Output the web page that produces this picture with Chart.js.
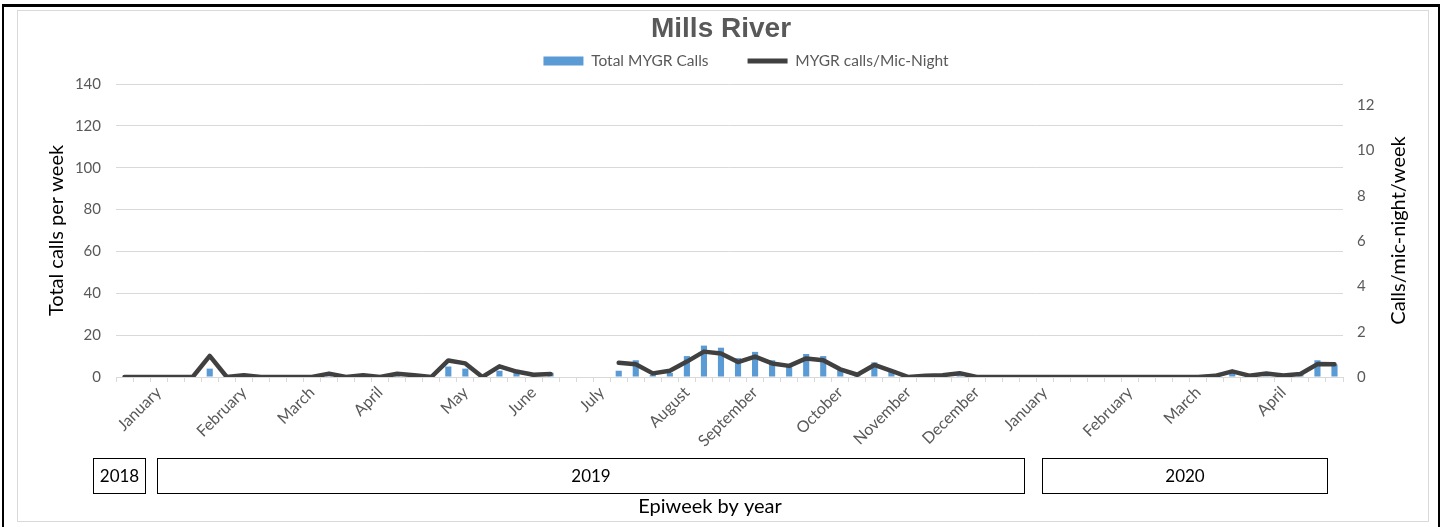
<!DOCTYPE html>
<html>
<head>
<meta charset="utf-8">
<title>Mills River</title>
<script src="https://cdn.jsdelivr.net/npm/chart.js@4.4.0/dist/chart.umd.min.js"></script>
<style>
  html, body { margin: 0; padding: 0; background: #fff; }
  body { width: 1442px; height: 527px; position: relative; overflow: hidden; }
  #chart { position: absolute; left: 0; top: 0; }
  .frame-outer { position: absolute; left: 2px; top: 4px; width: 1438px; height: 540px; box-sizing: border-box;
                 border-top: 3px solid #000; border-left: 2px solid #000; border-right: 2px solid #000; pointer-events: none; }
  .frame-inner { position: absolute; left: 17px; top: 10px; width: 1412px; height: 512px; box-sizing: border-box;
                 border: 1px solid #d9d9d9; pointer-events: none; }
  .year { position: absolute; top: 458px; height: 36px; box-sizing: border-box; border: 1px solid #000;
          font: 17px Lato, sans-serif; line-height: 34px; text-align: center; color: #000; background: #fff; }
</style>
</head>
<body>
<canvas id="chart" width="1442" height="527"></canvas>
<div class="frame-outer"></div>
<div class="frame-inner"></div>
<div id="years"></div>
<script>
// month names shown on the epiweek axis and the week index where each sits
const monthLabels = ['January', 'February', 'March', 'April', 'May', 'June', 'July', 'August',
  'September', 'October', 'November', 'December', 'January', 'February', 'March', 'April'];
const monthWeekIndex = [2, 7, 11, 15, 20, 24, 28, 33, 37, 42, 46, 50, 54, 59, 63, 68];

// year boxes under the axis
const yearLabels = ['2018', '2019', '2020'];

// weekly totals (left axis)
const totalCalls = [
  0, 0, 0, 0, 0, 4, 0, 1, 0, 0,
  0, 0, 1, 0, 1, 0, 1, 1, 0, 5,
  4, 0, 3, 3, 1, 2, null, null, null, 3,
  8, 1, 2, 10, 15, 14, 9, 12, 8, 6,
  11, 10, 4, 1, 7, 3, 0, 1, 1, 1,
  0, 0, 0, 0, 0, 0, 0, 0, 0, 0,
  0, 0, 0, 0, 1, 2, 1, 1, 1, 1,
  8, 6
];

// calls per mic-night (right axis)
const callsPerMicNight = [
  0, 0, 0, 0, 0, 0.93, 0, 0.08, 0, 0,
  0, 0, 0.15, 0, 0.08, 0, 0.14, 0.08, 0, 0.73,
  0.6, 0, 0.47, 0.24, 0.1, 0.13, null, null, null, 0.63,
  0.56, 0.16, 0.28, 0.68, 1.12, 1.04, 0.66, 0.9, 0.6, 0.49,
  0.82, 0.74, 0.34, 0.1, 0.53, 0.27, 0, 0.05, 0.08, 0.17,
  0, 0, 0, 0, 0, 0, 0, 0, 0, 0,
  0, 0, 0, 0, 0.05, 0.25, 0.06, 0.15, 0.07, 0.13,
  0.57, 0.56
];

const categories = totalCalls.map(function(v, i) {
  const k = monthWeekIndex.indexOf(i);
  return k >= 0 ? monthLabels[k] : '';
});

const barColor = '#5b9bd5';
const lineColor = '#404040';
const textGray = '#595959';
const fontFamily = 'Lato, sans-serif';

// year text boxes (placed like the text boxes of the original sheet)
const yearBoxes = [
  { left: 93, width: 53 },
  { left: 157, width: 868 },
  { left: 1042, width: 286 }
];
const yearsDiv = document.getElementById('years');
yearLabels.forEach(function(label, i) {
  const d = document.createElement('div');
  d.className = 'year';
  d.style.left = yearBoxes[i].left + 'px';
  d.style.width = yearBoxes[i].width + 'px';
  d.textContent = label;
  yearsDiv.appendChild(d);
});

// legend: keep the plot top fixed, then nudge where the items are drawn
const legendPlace = {
  id: 'legendPlace',
  beforeInit(chart) {
    const fit = chart.legend.fit;
    chart.legend.fit = function() {
      fit.call(this);
      this.height = 38.4;
    };
  },
  afterLayout(chart) {
    const lg = chart.legend;
    lg.top = 61 - lg.options.labels.padding - 7.75;
    lg.left += 25;
    lg.right += 25;
  }
};

// axis titles drawn by hand: right one reads bottom to top, bottom one sits left of centre
const axisTitles = {
  id: 'axisTitles',
  afterDraw(chart) {
    const ctx = chart.ctx;
    const yr = chart.scales.yRight;
    const x = chart.scales.x;
    ctx.save();
    ctx.font = '20px ' + fontFamily;
    ctx.fillStyle = '#000';
    ctx.textAlign = 'center';
    ctx.textBaseline = 'middle';
    ctx.fillText('Epiweek by year', (x.left + x.right) / 2 - 19.5, x.bottom - 20);
    ctx.translate(yr.right - 43, (yr.top + yr.bottom) / 2);
    ctx.rotate(-Math.PI / 2);
    ctx.fillText('Calls/mic-night/week', 0, 0);
    ctx.restore();
  }
};

new Chart(document.getElementById('chart'), {
  type: 'bar',
  data: {
    labels: categories,
    datasets: [
      {
        type: 'line',
        label: 'MYGR calls/Mic-Night',
        data: callsPerMicNight,
        yAxisID: 'yRight',
        borderColor: lineColor,
        backgroundColor: lineColor,
        borderWidth: 4.5,
        borderJoinStyle: 'round',
        borderCapStyle: 'round',
        pointRadius: 0,
        tension: 0,
        spanGaps: false,
        order: 0
      },
      {
        type: 'bar',
        label: 'Total MYGR Calls',
        data: totalCalls,
        yAxisID: 'y',
        backgroundColor: barColor,
        barPercentage: 0.36,
        categoryPercentage: 1.0,
        order: 1
      }
    ]
  },
  options: {
    responsive: false,
    animation: false,
    layout: { padding: 0 },
    plugins: {
      title: {
        display: true,
        text: 'Mills River',
        color: textGray,
        font: { family: 'Liberation Sans', size: 28, weight: 'bold' },
        padding: { top: 12, bottom: 0 }
      },
      legend: {
        display: true,
        position: 'top',
        labels: {
          usePointStyle: true,
          pointStyleWidth: 40,
          boxHeight: 9,
          padding: 39,
          color: textGray,
          font: { family: fontFamily, size: 15.5 },
          generateLabels: function() {
            return [
              { text: 'Total MYGR Calls', fillStyle: barColor, strokeStyle: barColor, lineWidth: 0,
                pointStyle: 'rect', hidden: false, datasetIndex: 1, fontColor: textGray },
              { text: 'MYGR calls/Mic-Night', fillStyle: lineColor, strokeStyle: lineColor, lineWidth: 5,
                pointStyle: 'line', hidden: false, datasetIndex: 0, fontColor: textGray }
            ];
          }
        }
      },
      tooltip: { enabled: false }
    },
    scales: {
      x: {
        offset: true,
        ticks: {
          autoSkip: false,
          minRotation: 45,
          maxRotation: 45,
          padding: 1,
          color: textGray,
          font: { family: fontFamily, size: 16 }
        },
        grid: { offset: true, drawOnChartArea: false, drawTicks: true, tickLength: 5, color: '#d9d9d9' },
        border: { display: true, color: '#d9d9d9' },
        afterFit: function(scale) { scale.height = 150; }
      },
      y: {
        position: 'left',
        min: 0,
        max: 140,
        ticks: { stepSize: 20, padding: 15, color: textGray, font: { family: fontFamily, size: 15 } },
        grid: { color: '#d9d9d9', drawTicks: false },
        border: { display: false },
        title: {
          display: true,
          text: 'Total calls per week',
          color: '#000',
          font: { family: fontFamily, size: 20 },
          padding: { top: 45, bottom: 0 }
        },
        afterFit: function(scale) { scale.width = 116; }
      },
      yRight: {
        position: 'right',
        min: 0,
        max: 12.93,
        ticks: { stepSize: 2, includeBounds: false, padding: 14, color: textGray, font: { family: fontFamily, size: 15 } },
        grid: { drawOnChartArea: false, drawTicks: false },
        border: { display: false },
        afterFit: function(scale) { scale.width = 99; }
      }
    }
  },
  plugins: [legendPlace, axisTitles]
});
</script>
</body>
</html>
